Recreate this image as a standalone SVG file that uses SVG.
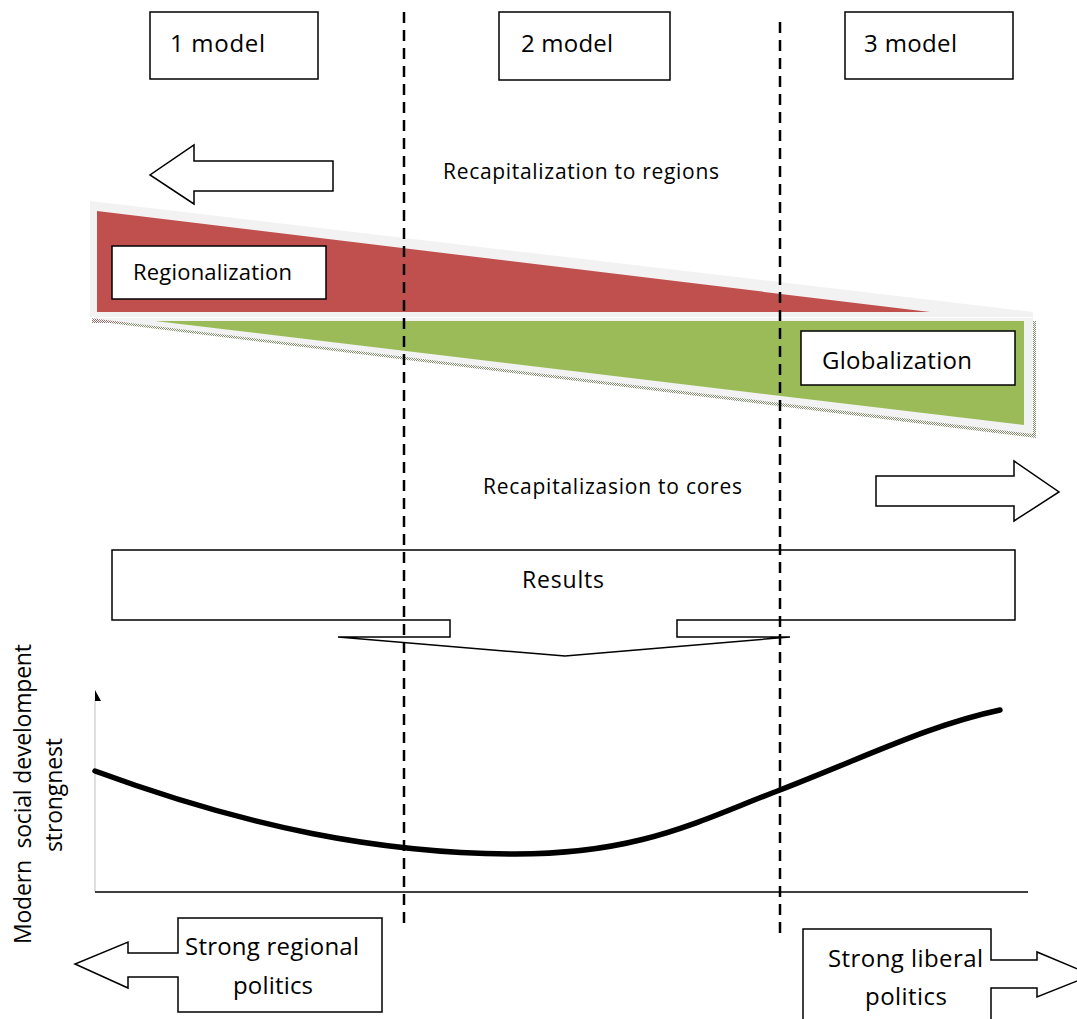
<svg xmlns="http://www.w3.org/2000/svg" width="1077" height="1019" viewBox="0 0 1077 1019">
<defs>
<style>
.t{font-family:"Open Sans","Noto Sans","DejaVu Sans",sans-serif;fill:#000}
.box{fill:#fff;stroke:#000;stroke-width:1.5}
.dash{stroke:#000;stroke-width:2.5;stroke-dasharray:11 7;fill:none}
</style>
<pattern id="hatch" width="2" height="2" patternUnits="userSpaceOnUse">
<rect width="2" height="2" fill="#ffffff"/>
<rect width="1" height="1" fill="#7f8c6c"/>
<rect x="1" y="1" width="1" height="1" fill="#7f8c6c"/>
</pattern>
<pattern id="hatchR" width="2" height="2" patternUnits="userSpaceOnUse">
<rect width="2" height="2" fill="#ffffff"/>
<rect width="1" height="1" fill="#9a6a6a"/>
<rect x="1" y="1" width="1" height="1" fill="#9a6a6a"/>
</pattern>
</defs>
<rect width="1077" height="1019" fill="#fff"/>

<g id="model1"><rect class="box" x="150" y="12" width="168" height="67"/><text class="t" x="170" y="52" font-size="24" textLength="95" lengthAdjust="spacing">1 model</text></g>
<g id="model2"><rect class="box" x="499" y="12" width="171" height="68"/><text class="t" x="521" y="52" font-size="24" textLength="92" lengthAdjust="spacing">2 model</text></g>
<g id="model3"><rect class="box" x="845" y="12" width="168" height="67"/><text class="t" x="864" y="52" font-size="24" textLength="93" lengthAdjust="spacing">3 model</text></g>

<g id="arrow-left-top"><path class="box" d="M333,161 H194 V145 L150,175 L194,204 V191 H333 Z"/></g>
<g id="label-regions"><text class="t" x="443" y="179" font-size="21" textLength="276" lengthAdjust="spacing">Recapitalization to regions</text></g>

<g id="regionalization-wedge">
<polygon points="93,321 1036,321 1036,438" fill="url(#hatch)"/>
<polygon points="92,318 128,318 128,323 92,323" fill="url(#hatchR)"/>
<polygon points="90,201 1033,312 1033,317 90,317" fill="#f2f2f2"/>
<polygon points="97,211 930,312 97,312" fill="#c0504d"/>
</g>
<g id="globalization-wedge">
<polygon points="90,318 1033,318 1033,434" fill="#f2f2f2"/>
<polygon points="155,321 1024,321 1024,425" fill="#9bbb59"/>
</g>
<g id="regionalization"><rect class="box" x="112" y="246" width="214" height="53"/><text class="t" x="133" y="280" font-size="22" textLength="159" lengthAdjust="spacing">Regionalization</text></g>
<g id="globalization"><rect class="box" x="801" y="331" width="214" height="54"/><text class="t" x="822" y="369" font-size="24" textLength="150" lengthAdjust="spacing">Globalization</text></g>

<g id="label-cores"><text class="t" x="483" y="494" font-size="21" textLength="259" lengthAdjust="spacing">Recapitalizasion to cores</text></g>
<g id="arrow-right-mid"><path class="box" d="M876,476 H1014 V461 L1059,492 L1014,521 V506 H876 Z"/></g>

<g id="results"><path class="box" d="M112,550 H1015 V620 H677 V637 H790 L565,656 L338,637 H450 V620 H112 Z"/><text class="t" x="522" y="588" font-size="23" textLength="82" lengthAdjust="spacing">Results</text></g>

<g id="chart">
<line x1="95" y1="700" x2="95" y2="892" stroke="#bfbfbf" stroke-width="1"/>
<polygon points="95,690 101,701 95,701" fill="#000"/>
<line x1="95" y1="892" x2="1028" y2="892" stroke="#404040" stroke-width="2"/>
<path d="M95,771 C250,828 380,853 510,854 C640,855 700,820 780,790 C870,755 930,725 1000,710" fill="none" stroke="#000" stroke-width="5.5" stroke-linecap="round"/>
<text class="t" xml:space="preserve" transform="translate(31,944) rotate(-90)" font-size="23" textLength="300" lengthAdjust="spacing">Modern  social develompent</text>
<text class="t" transform="translate(62,852) rotate(-90)" font-size="23" textLength="114" lengthAdjust="spacing">strongnest</text>
</g>

<g id="strong-regional"><path class="box" d="M178,918 H382 V1012 H178 V977 H128 V988 L75,964 L128,942 V953 H178 Z"/><text class="t" x="185" y="955" font-size="24" textLength="174" lengthAdjust="spacing">Strong regional</text><text class="t" x="233" y="994" font-size="24" textLength="80" lengthAdjust="spacing">politics</text></g>
<g id="strong-liberal"><path class="box" d="M803,929 H991 V960 H1037 V952 L1092,975 L1037,997 V988 H991 V1030 H803 Z"/><text class="t" x="828" y="967" font-size="24" textLength="155" lengthAdjust="spacing">Strong liberal</text><text class="t" x="865" y="1005" font-size="24" textLength="82" lengthAdjust="spacing">politics</text></g>

<g id="connectors">
<line class="dash" x1="404" y1="12" x2="404" y2="928"/>
<line class="dash" x1="780" y1="22" x2="780" y2="940"/>
</g>
</svg>
